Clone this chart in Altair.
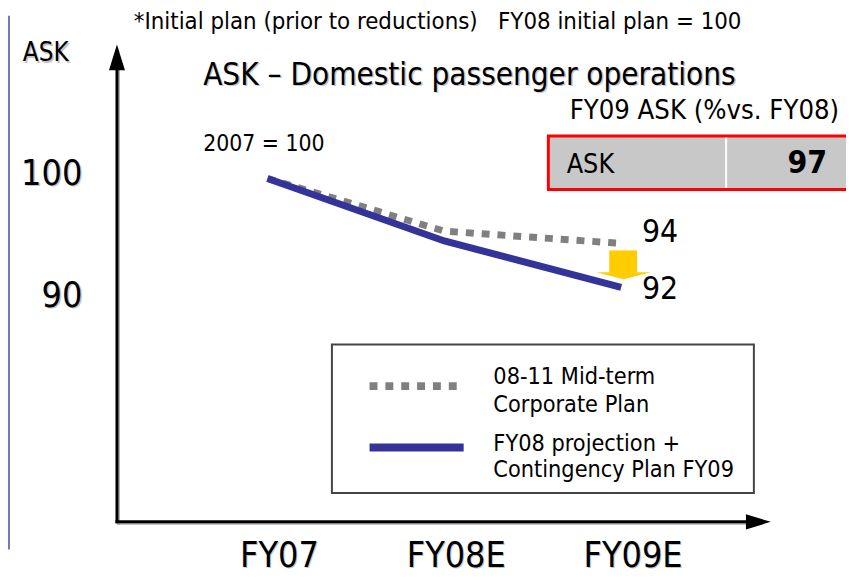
import altair as alt
import pandas as pd

# ---- data ----
years = ["FY07", "FY08E", "FY09E"]
mid_term_plan = [99.6, 95.3, 94.3]       # 08-11 Mid-term Corporate Plan (grey dotted)
projection = [99.6, 94.5, 90.7]          # FY08 projection + Contingency Plan FY09 (blue)
end_labels = ["94", "92"]
y_tick_labels = ["100", "90"]
y_tick_values = [100, 90]
series_names = ["08-11 Mid-term\nCorporate Plan", "FY08 projection +\nContingency Plan FY09"]
note_text = "*Initial plan (prior to reductions)\u00a0\u00a0 FY08 initial plan = 100"
title_text = "ASK \u2013 Domestic passenger operations"
box_title = "FY09 ASK (%vs. FY08)"
box_label = "ASK"
box_value = "97"
base_text = "2007 = 100"
y_title = "ASK"

FONT = "DejaVu Sans Condensed"
GREY = "#808080"
BLUE = "#333399"
SHADOW = "#c4c4c4"

rows = []
for i, y in enumerate(years):
    rows.append({"idx": i, "year": y, "series": "mid", "value": mid_term_plan[i]})
    rows.append({"idx": i, "year": y, "series": "proj", "value": projection[i]})
df = pd.DataFrame(rows)
years_df = pd.DataFrame({"idx": list(range(len(years))), "year": years})
ends_df = pd.DataFrame({"idx": [2, 2], "value": [mid_term_plan[-1], projection[-1]], "label": end_labels})
yt_df = pd.DataFrame({"value": y_tick_values, "label": y_tick_labels})
one = pd.DataFrame({"a": [0]})

xs = alt.Scale(domain=[0, 2], range=[262, 619])
ys = alt.Scale(domain=[90, 100], range=[288, 164.5])
X = alt.X("idx:Q", scale=xs, axis=None)
Y = alt.Y("value:Q", scale=ys, axis=None)


def txt(s, x, y, size, align="left", weight="normal", shadow=False):
    out = []
    if shadow:
        out.append(alt.Chart(one).mark_text(text=s, font=FONT, fontSize=size, align=align,
                                            baseline="alphabetic", fontWeight=weight, color=SHADOW,
                                            dx=1.5, dy=1.5).encode(x=alt.value(x), y=alt.value(y)))
    out.append(alt.Chart(one).mark_text(text=s, font=FONT, fontSize=size, align=align,
                                        baseline="alphabetic", fontWeight=weight, color="black").encode(
        x=alt.value(x), y=alt.value(y)))
    return out


layers = []

# left border of neighbouring box
layers.append(alt.Chart(one).mark_rule(color="#4848a8", strokeWidth=1.5).encode(
    x=alt.value(1), y=alt.value(5), y2=alt.value(544)))

# axes with arrows (shadow + line)
layers.append(alt.Chart(one).mark_rule(color="#b0b0b0", strokeWidth=3).encode(
    x=alt.value(111.5), y=alt.value(519), y2=alt.value(58)))
layers.append(alt.Chart(one).mark_rule(color="#b0b0b0", strokeWidth=3).encode(
    x=alt.value(110), x2=alt.value(751), y=alt.value(517.5)))
layers.append(alt.Chart(one).mark_rule(color="black", strokeWidth=3).encode(
    x=alt.value(110), y=alt.value(517.5), y2=alt.value(56)))
layers.append(alt.Chart(one).mark_rule(color="black", strokeWidth=3).encode(
    x=alt.value(108.5), x2=alt.value(750), y=alt.value(516)))
layers.append(alt.Chart(one).mark_point(shape="M0,-1L0.62,1L-0.62,1Z", filled=True, color="black",
                                        size=676, opacity=1).encode(x=alt.value(110), y=alt.value(47)))
layers.append(alt.Chart(one).mark_point(shape="M1,0L-1,0.62L-1,-0.62Z", filled=True, color="black",
                                        size=625, opacity=1).encode(x=alt.value(757.5), y=alt.value(516)))

# texts
layers += txt(note_text, 127, 18, 24)
layers += txt(y_title, 15, 51, 26, shadow=True)
layers += txt(title_text, 197, 75, 31.5, shadow=True)
layers += txt(box_title, 567, 109, 27.5)
layers += txt(base_text, 197, 142, 23)

# red box
layers.append(alt.Chart(one).mark_rect(fill="#c8c8c8", stroke="#ff0000", strokeWidth=3).encode(
    x=alt.value(545.5), x2=alt.value(852), y=alt.value(126.5), y2=alt.value(180.5)))
layers.append(alt.Chart(one).mark_rule(color="white", strokeWidth=2).encode(
    x=alt.value(725), y=alt.value(128), y2=alt.value(179)))
layers += txt(box_label, 564, 164, 27)
layers += txt(box_value, 827, 164, 32, align="right", weight="bold")

# y tick labels
layers.append(alt.Chart(yt_df).mark_text(font=FONT, fontSize=36, align="right", baseline="middle",
                                         color=SHADOW, dx=1.5, dy=1.5).encode(
    x=alt.value(75), y=Y, text="label:N"))
layers.append(alt.Chart(yt_df).mark_text(font=FONT, fontSize=36, align="right", baseline="middle",
                                         color="black").encode(
    x=alt.value(75), y=Y, text="label:N"))

# lines
layers.append(alt.Chart(df[df.series == "mid"]).mark_line(color=GREY, strokeWidth=7, strokeDash=[8, 8],
                                                          strokeCap="butt").encode(x=X, y=Y))
layers.append(alt.Chart(df[df.series == "proj"]).mark_line(color=BLUE, strokeWidth=7,
                                                           strokeCap="butt").encode(x=X, y=Y))

# end labels
layers.append(alt.Chart(ends_df.iloc[[0]]).mark_text(font=FONT, fontSize=32, align="left", baseline="middle",
                                                     dx=21, dy=-11, color="black").encode(x=X, y=Y, text="label:N"))
layers.append(alt.Chart(ends_df.iloc[[1]]).mark_text(font=FONT, fontSize=32, align="left", baseline="middle",
                                                     dx=21, dy=2, color="black").encode(x=X, y=Y, text="label:N"))

# yellow arrow
layers.append(alt.Chart(one).mark_rect(color="#ffcc00").encode(
    x=alt.value(607), x2=alt.value(635), y=alt.value(242), y2=alt.value(264.5)))
layers.append(alt.Chart(one).mark_point(shape="M-1,-0.13L1,-0.13L0,0.13Z", filled=True, color="#ffcc00",
                                        size=3025, opacity=1).encode(x=alt.value(621.5), y=alt.value(267.5)))

# legend box
layers.append(alt.Chart(one).mark_rect(fill="white", stroke="#444444", strokeWidth=2).encode(
    x=alt.value(327), x2=alt.value(753), y=alt.value(337), y2=alt.value(487)))
layers.append(alt.Chart(one).mark_rule(color=GREY, strokeWidth=8, strokeDash=[8, 8]).encode(
    x=alt.value(365), x2=alt.value(454), y=alt.value(379)))
layers.append(alt.Chart(one).mark_rule(color=BLUE, strokeWidth=8).encode(
    x=alt.value(365), x2=alt.value(460), y=alt.value(441)))
leg1 = series_names[0].split("\n")
leg2 = series_names[1].split("\n")
layers += txt(leg1[0], 490, 377, 23.5)
layers += txt(leg1[1], 490, 405, 23.5)
layers += txt(leg2[0], 490, 444, 23.5)
layers += txt(leg2[1], 490, 471, 23.5)

# x labels
layers.append(alt.Chart(years_df).mark_text(font=FONT, fontSize=36, align="center", baseline="alphabetic",
                                            dx=13, dy=1, color=SHADOW).encode(
    x=X, y=alt.value(562), text="year:N"))
layers.append(alt.Chart(years_df).mark_text(font=FONT, fontSize=36, align="center", baseline="alphabetic",
                                            dx=12, color="black").encode(
    x=X, y=alt.value(562), text="year:N"))

chart = alt.layer(*layers).properties(
    width=846, height=573, padding=0,
    autosize=alt.AutoSizeParams(type="none"),
).configure_view(stroke=None)

chart.save("out.html", embed_options={"renderer": "svg", "actions": False})
